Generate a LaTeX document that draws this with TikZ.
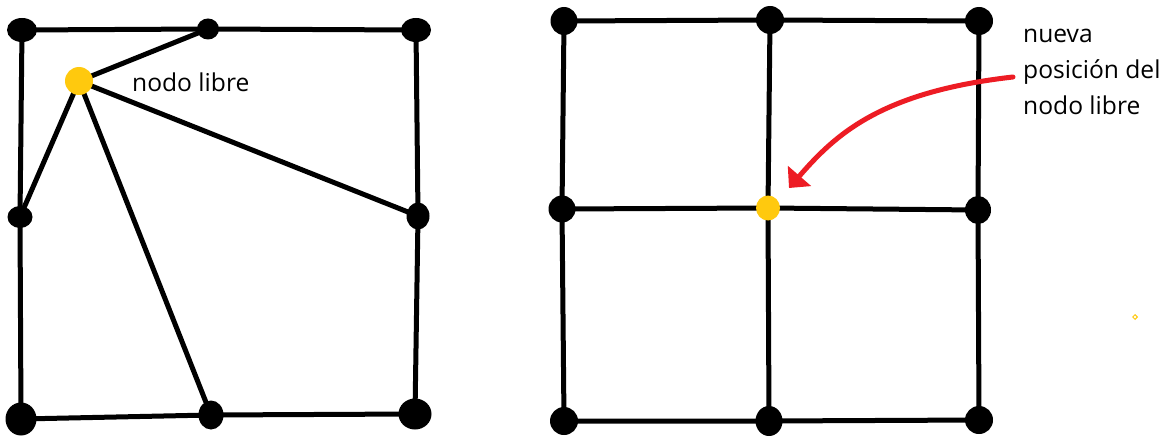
\documentclass[tikz,border=0pt]{standalone}
\usepackage{fontspec}
\setmainfont{Open Sans}
\usetikzlibrary{shapes.geometric,arrows.meta}
\definecolor{gold}{RGB}{255,201,14}
\definecolor{paintred}{RGB}{237,28,36}
\pgfdeclarelayer{paper}
\pgfdeclarelayer{lines}
\pgfsetlayers{paper,lines,main}
\tikzset{
  dot/.style={ellipse,fill=black,inner sep=0pt},
  freedot/.style={ellipse,fill=gold,inner sep=0pt},
  edge/.style={line width=5pt,black},
  lbl/.style={font=\fontsize{24.6}{35.5}\selectfont,inner sep=0pt,align=left},
  redarrow/.style={line width=5pt,paintred,line cap=round,-{Triangle[length=16pt,width=30pt]}}
}
\begin{document}
\begin{tikzpicture}[x=1pt,y=-1pt]
\begin{pgfonlayer}{paper}
\fill[white] (0,0) rectangle (1174,441);
\end{pgfonlayer}
\useasboundingbox (0,0) rectangle (1174,441);
% left figure
\node[dot,minimum width=30pt,minimum height=24pt] (A1) at (22,30) {};
\node[dot,minimum width=22pt,minimum height=21pt] (A2) at (208,29) {};
\node[dot,minimum width=30pt,minimum height=24pt] (A3) at (416,30) {};
\node[dot,minimum width=25pt,minimum height=22pt] (A4) at (20,217) {};
\node[dot,minimum width=23pt,minimum height=27pt] (A5) at (418,216) {};
\node[dot,minimum width=31pt,minimum height=33pt] (A6) at (21,419) {};
\node[dot,minimum width=25pt,minimum height=29pt] (A7) at (211,415) {};
\node[dot,minimum width=33pt,minimum height=31pt] (A8) at (415,414) {};
\node[freedot,minimum size=28pt] (Y1) at (79,81) {};
\begin{pgfonlayer}{lines}
\draw[edge] (A1.center) -- (A2.center) -- (A3.center) -- (A5.center) -- (A8.center)
  -- (A7.center) -- (A6.center) -- (A4.center) -- cycle;
\draw[edge] (Y1.center) -- (A2.center);
\draw[edge] (Y1.center) -- (A4.center);
\draw[edge] (Y1.center) -- (A7.center);
\draw[edge] (Y1.center) -- (A5.center);
\end{pgfonlayer}
\node[lbl,anchor=base west] (L1) at (132,92) {nodo libre};
% right figure
\node[dot,minimum width=27pt,minimum height=28pt] (B1) at (564,21) {};
\node[dot,minimum width=28pt,minimum height=28pt] (B2) at (770,20) {};
\node[dot,minimum width=28pt,minimum height=28pt] (B3) at (979,21) {};
\node[dot,minimum width=27pt,minimum height=27pt] (B4) at (562,209) {};
\node[freedot,minimum width=24pt,minimum height=25pt] (Y2) at (768,208) {};
\node[dot,minimum width=26pt,minimum height=28pt] (B6) at (978,210) {};
\node[dot,minimum width=28pt,minimum height=28pt] (B7) at (564,421) {};
\node[dot,minimum width=27pt,minimum height=30pt] (B8) at (769,421) {};
\node[dot,minimum width=28pt,minimum height=28pt] (B9) at (979,420) {};
\begin{pgfonlayer}{lines}
\draw[edge] (B1.center) -- (B2.center) -- (B3.center) -- (B6.center) -- (B9.center)
  -- (B8.center) -- (B7.center) -- (B4.center) -- cycle;
\draw[edge] (B2.center) -- (Y2.center) -- (B8.center);
\draw[edge] (B4.center) -- (Y2.center) -- (B6.center);
\end{pgfonlayer}
\node[lbl,anchor=base west] (L2) at (1023,114) {nueva\\posición del\\nodo libre};
\coordinate (S) at (1013,77);
\coordinate (T) at (789,188);
\draw[redarrow] (S) .. controls (880,92) and (835,135) .. (T);
\node[diamond,draw=gold,line width=1pt,inner sep=0pt,minimum size=5pt] (speck) at (1135,317) {};
\end{tikzpicture}
\end{document}
